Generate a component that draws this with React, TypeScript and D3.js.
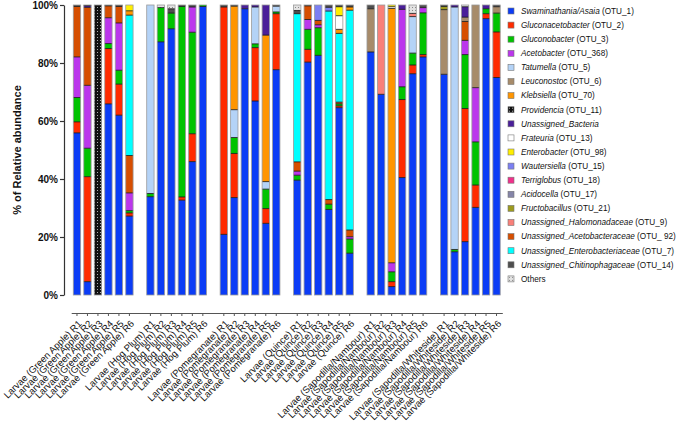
import React, { useEffect, useRef } from 'react';
import * as d3 from 'd3';

// taxa in legend order
const taxaKeys = ['asaia', 'glac', 'glob', 'acet', 'tatu', 'leuc', 'kleb', 'prov', 'unBac', 'frat', 'ente', 'waut', 'terr', 'acid', 'fruc', 'halo', 'aceF', 'entF', 'chit', 'other'];
const taxaNames = ['Swaminathania/Asaia', 'Gluconacetobacter', 'Gluconobacter', 'Acetobacter', 'Tatumella', 'Leuconostoc', 'Klebsiella', 'Providencia', 'Unassigned_Bacteria', 'Frateuria', 'Enterobacter', 'Wautersiella', 'Terriglobus', 'Acidocella', 'Fructobacillus', 'Unassigned_Halomonadaceae', 'Unassigned_Acetobacteraceae', 'Unassigned_Enterobacteriaceae', 'Unassigned_Chitinophagaceae', 'Others'];
const taxaOtu = [' (OTU_1)', ' (OTU_2)', ' (OTU_3)', ' (OTU_368)', ' (OTU_5)', ' (OTU_6)', ' (OTU_70)', ' (OTU_11)', '', ' (OTU_13)', ' (OTU_98)', ' (OTU_15)', ' (OTU_18)', ' (OTU_17)', ' (OTU_21)', ' (OTU_9)', ' (OTU_ 92)', ' (OTU_7)', ' (OTU_14)', ''];
const taxaColors = ['#0b3cf6', '#ff2b00', '#00c300', '#bb36ec', '#b4d3f7', '#a78b6a', '#ff9500', 'url(#provPat)', '#4a1f99', '#ffffff', '#ffee00', '#7b7ff2', '#f0308a', '#8585a8', '#9c9a1e', '#f98079', '#d64e00', '#00ffff', '#4e4e4e', 'url(#otherPat)'];

// order the segments are stacked in, bottom to top
const stackOrder = ['asaia', 'glac', 'glob', 'acet', 'aceF', 'entF', 'tatu', 'halo', 'leuc', 'kleb', 'frat', 'ente', 'waut', 'terr', 'acid', 'unBac', 'fruc', 'chit', 'prov', 'other'];

const groups = ['Green Apple', 'Hog Plum', 'Pomegranate', 'Quince', 'Sapodilla/Nambour', 'Sapodilla/Whiteside'];

const greenApple = [
  { asaia: 55.9, glac: 3.8, glob: 8.4, acet: 14, aceF: 17.4, chit: 0.5 },
  { asaia: 4.6, glac: 36.2, glob: 9.8, acet: 21.7, aceF: 26.9, unBac: 0.6, chit: 0.2 },
  { prov: 100 },
  { asaia: 65.9, glac: 19.1, glob: 1.7, acet: 8.9, aceF: 4.1, chit: 0.3 },
  { asaia: 62, glac: 10.7, glob: 4.8, acet: 16.3, aceF: 5.7, chit: 0.5 },
  { asaia: 27.2, glac: 1.1, glob: 0.8, acet: 6.1, aceF: 12.9, entF: 48.4, kleb: 1.5, ente: 2.0 },
];
const hogPlum = [
  { asaia: 33.9, glob: 1.1, tatu: 65 },
  { asaia: 87.3, glob: 11.8, other: 0.9 },
  { asaia: 91.8, glob: 5.4, chit: 1.5, other: 1.3 },
  { asaia: 32.7, glac: 1.1, glob: 65.7, chit: 0.5 },
  { asaia: 46, glac: 9.6, glob: 35, acet: 8.7, chit: 0.7 },
  { asaia: 99.5, glob: 0.5 },
];
const pomegranate = [
  { asaia: 20.9, glac: 78.4, chit: 0.7 },
  { asaia: 33.6, glac: 15.2, glob: 5.5, tatu: 9.6, kleb: 35.7, chit: 0.4 },
  { asaia: 98.7, unBac: 1.3 },
  { asaia: 66.9, glac: 18.4, glob: 1.3, tatu: 12.7, unBac: 0.7 },
  { asaia: 24.7, glac: 5.1, glob: 6.7, tatu: 2.6, kleb: 50.5, unBac: 10.4 },
  { asaia: 77.7, glac: 19.3, glob: 0.6, tatu: 2.0, chit: 0.4 },
];
const quince = [
  { asaia: 39.6, glob: 1.7, acet: 1.4, aceF: 3.2, entF: 51.1, chit: 1.1, other: 1.9 },
  { asaia: 80.3, glac: 4.4, glob: 6.9, acet: 3.4, aceF: 4.7, chit: 0.3 },
  { asaia: 82.3, glob: 9.5, acet: 1.0, aceF: 1.5, waut: 5.3 },
  { asaia: 29.5, glob: 1.8, aceF: 1.6, entF: 65, waut: 1.3, chit: 0.8 },
  { asaia: 64.6, glac: 0.6, glob: 0.7, aceF: 0.6, entF: 23.7, kleb: 1.4, frat: 4.7, ente: 3.1, chit: 0.6 },
  { asaia: 14.4, glob: 4.9, acet: 0.8, aceF: 2.3, entF: 75.8, kleb: 1.1, chit: 0.7 },
];
const sapodillaNambour = [
  { asaia: 83.8, leuc: 14.9, chit: 1.3 },
  { asaia: 69.2, halo: 30.8 },
  { asaia: 2.9, glac: 1.7, glob: 3.4, acet: 3.1, kleb: 87.7, frat: 0.6, ente: 0.6 },
  { asaia: 40.5, glac: 26.9, glob: 4.4, acet: 26.7, unBac: 1.5 },
  { asaia: 76.3, glac: 3.0, glob: 4.1, tatu: 12.6, halo: 1.1, other: 2.9 },
  { asaia: 82.1, glac: 0.8, glob: 14.4, acet: 1.8, chit: 0.9 },
];
const sapodillaWhiteside = [
  { asaia: 76.1, leuc: 22.3, fruc: 1.1, chit: 0.5 },
  { asaia: 14.9, glob: 0.8, tatu: 83.6, unBac: 0.7 },
  { asaia: 18.4, glac: 45.9, glob: 18.6, acet: 4.9, aceF: 6.5, leuc: 1.5, unBac: 3.6, other: 0.6 },
  { asaia: 30.2, glac: 7.7, glob: 14.9, acet: 18.7, leuc: 28.5 },
  { asaia: 95.3, glac: 1.7, glob: 1.7, unBac: 1.3 },
  { asaia: 75, glac: 15.7, glob: 6.5, leuc: 2.2, chit: 0.6 },
];

const yTicks = [0, 0.2, 0.4, 0.6, 0.8, 1];

const W = 685;
const H = 422;
const FONT = 'Arial, "Liberation Sans", sans-serif';

export default function App() {
  const svgRef = useRef<SVGSVGElement>(null);

  useEffect(() => {
    const svg = d3.select(svgRef.current);
    svg.selectAll('*').remove();

    const groupData = [greenApple, hogPlum, pomegranate, quince, sapodillaNambour, sapodillaWhiteside];

    // one row per sample, plus an empty slot between groups
    const rows: any[] = [];
    const slots: string[] = [];
    groupData.forEach((g, gi) => {
      g.forEach((s, si) => {
        const row: any = { id: `Larvae (${groups[gi]}) R${si + 1}` };
        stackOrder.forEach(k => { row[k] = (s as any)[k] || 0; });
        rows.push(row);
        slots.push(row.id);
      });
      if (gi < groupData.length - 1) slots.push(`gap${gi}`);
    });

    const x = d3.scaleBand<string>().domain(slots).range([71.2, 502.3]).paddingInner(0.3).paddingOuter(0.2);
    const y = d3.scaleLinear().domain([0, 1]).range([295, 5]);

    const defs = svg.append('defs');
    const prov = defs.append('pattern').attr('id', 'provPat').attr('patternUnits', 'userSpaceOnUse').attr('width', 3).attr('height', 3);
    prov.append('rect').attr('width', 3).attr('height', 3).attr('fill', '#111');
    prov.append('rect').attr('x', 1).attr('y', 1).attr('width', 1).attr('height', 1).attr('fill', '#aaa');
    const oth = defs.append('pattern').attr('id', 'otherPat').attr('patternUnits', 'userSpaceOnUse').attr('width', 3).attr('height', 3);
    oth.append('rect').attr('width', 3).attr('height', 3).attr('fill', '#e2e2e2');
    oth.append('rect').attr('x', 1).attr('y', 1).attr('width', 1).attr('height', 1).attr('fill', '#888');

    const stacked = d3.stack<any>().keys(stackOrder).offset(d3.stackOffsetExpand)(rows);
    const colorOf = (k: string) => taxaColors[taxaKeys.indexOf(k)];

    const layers = svg.append('g');
    stacked.forEach(layer => {
      layers.append('g')
        .attr('fill', colorOf(layer.key))
        .selectAll('rect')
        .data(layer.filter(d => d[1] - d[0] > 0))
        .enter()
        .append('rect')
        .attr('x', d => x(d.data.id)!)
        .attr('width', x.bandwidth())
        .attr('y', d => y(d[1]))
        .attr('height', d => y(d[0]) - y(d[1]));
    });

    // thin dark lines between segments
    stacked.forEach(layer => {
      layers.append('g')
        .selectAll('line')
        .data(layer.filter(d => d[1] - d[0] > 0 && d[1] < 0.9999))
        .enter()
        .append('line')
        .attr('x1', d => x(d.data.id)!)
        .attr('x2', d => x(d.data.id)! + x.bandwidth())
        .attr('y1', d => y(d[1]))
        .attr('y2', d => y(d[1]))
        .attr('stroke', '#111')
        .attr('stroke-width', 0.8);
    });

    // bar outlines
    svg.append('g')
      .selectAll('rect')
      .data(rows)
      .enter()
      .append('rect')
      .attr('x', d => x(d.id)!)
      .attr('width', x.bandwidth())
      .attr('y', y(1))
      .attr('height', y(0) - y(1))
      .attr('fill', 'none')
      .attr('stroke', '#9a9a9a')
      .attr('stroke-width', 0.8);

    // y axis
    const yAxis = svg.append('g')
      .attr('transform', 'translate(64,0)')
      .call(d3.axisLeft(y).tickValues(yTicks).tickFormat(d3.format('.0%')).tickSize(4).tickSizeOuter(0));
    yAxis.select('.domain').attr('stroke', '#333').attr('stroke-width', 1.2);
    yAxis.selectAll('.tick line').attr('stroke', '#333').attr('stroke-width', 1.2);
    yAxis.selectAll('text').attr('font-family', FONT).attr('font-size', 10).attr('font-weight', 'bold').attr('fill', '#111').attr('x', -6);

    svg.append('text')
      .attr('transform', 'translate(21,150) rotate(-90)')
      .attr('text-anchor', 'middle')
      .attr('font-family', FONT)
      .attr('font-size', 11)
      .attr('font-weight', 'bold')
      .attr('fill', '#111')
      .text('% of Relative abundance');

    // x axis
    const xAxis = svg.append('g')
      .attr('transform', 'translate(0,313)')
      .call(d3.axisBottom(x).tickValues(rows.map(r => r.id)).tickSize(3).tickSizeOuter(0));
    xAxis.select('.domain').attr('stroke', '#555').attr('stroke-width', 1.2);
    xAxis.selectAll('.tick line').attr('stroke', '#555');
    xAxis.selectAll('text')
      .attr('font-family', FONT)
      .attr('font-size', 9.5)
      .attr('fill', '#111')
      .attr('x', 0)
      .attr('y', 0)
      .attr('dy', '0.35em')
      .attr('text-anchor', 'end')
      .attr('transform', 'translate(3,9) rotate(-45)');

    // legend
    const legend = svg.append('g').attr('transform', 'translate(508,11)');
    const item = legend.selectAll('g')
      .data(taxaKeys)
      .enter()
      .append('g')
      .attr('transform', (d, i) => `translate(0,${i * 14.1})`);
    item.append('rect')
      .attr('x', 0)
      .attr('y', -3)
      .attr('width', 6)
      .attr('height', 6)
      .attr('fill', d => colorOf(d))
      .attr('stroke', '#777')
      .attr('stroke-width', 0.6);
    const lt = item.append('text')
      .attr('x', 13)
      .attr('dy', '0.35em')
      .attr('font-family', FONT)
      .attr('font-size', 8.2)
      .attr('fill', '#111');
    lt.append('tspan')
      .attr('font-style', (d, i) => (d === 'other' ? 'normal' : 'italic'))
      .text((d, i) => taxaNames[i]);
    lt.append('tspan').text((d, i) => taxaOtu[i]);
  }, []);

  return (
    <svg ref={svgRef} width={W} height={H} style={{ position: 'absolute', left: 0, top: 0, background: '#fff' }} />
  );
}
